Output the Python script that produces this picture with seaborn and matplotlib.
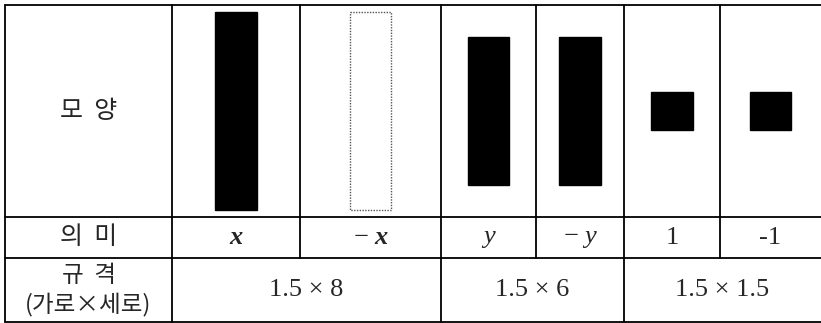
import matplotlib
matplotlib.use("Agg")
import matplotlib.pyplot as plt
import seaborn as sns

# table content
shape_labels = ["x", "-x", "y", "-y", "1", "-1"]
meaning_text = [r"$\mathbf{x}$", r"$-\ \mathbf{x}$", r"$y$", r"$-\ y$", "1", "-1"]
tile_w = [1.5, 1.5, 1.5, 1.5, 1.5, 1.5]
tile_h = [8, 8, 6, 6, 1.5, 1.5]
tile_fill = ["black", "white", "black", "black", "black", "black"]
spec_text = ["1.5 × 8", "1.5 × 6", "1.5 × 1.5"]
spec_span = [(0, 2), (2, 4), (4, 6)]

sns.set_theme(style="white")
plt.rcParams["font.family"] = ["Noto Sans CJK KR", "DejaVu Sans"]
plt.rcParams["mathtext.fontset"] = "custom"
plt.rcParams["mathtext.it"] = "Liberation Serif:italic"
plt.rcParams["mathtext.bf"] = "Liberation Serif:bold:italic"
plt.rcParams["mathtext.rm"] = "Liberation Serif"

W, H = 821, 323
fig = plt.figure(figsize=(W / 100, H / 100), dpi=100)
ax = fig.add_axes([0, 0, 1, 1])
ax.set_xlim(0, W)
ax.set_ylim(H, 0)
ax.axis("off")

# grid layout (pixels)
left, right = 5, 821
col_edges = [172, 300, 441, 536, 624, 720, 821]
row_y = [5, 217, 258, 321.5]
lw = 1.3

for y in row_y:
    ax.plot([left, right], [y, y], color="black", lw=lw)
ax.plot([left, left], [row_y[0], row_y[-1]], color="black", lw=lw)
for x in col_edges[:-1]:
    ax.plot([x, x], [row_y[0], row_y[2]], color="black", lw=lw)
for a, b in spec_span:
    ax.plot([col_edges[a], col_edges[a]], [row_y[2], row_y[3]], color="black", lw=lw)

# tiles drawn to scale, centred in each shape cell
sx, sy = 27.5, 24.7
for i in range(len(shape_labels)):
    cx = (col_edges[i] + col_edges[i + 1]) / 2
    cy = (row_y[0] + row_y[1]) / 2
    w = tile_w[i] * sx
    h = tile_h[i] * sy
    if tile_fill[i] == "white":
        ax.bar(cx, h, width=w, bottom=cy - h / 2, color="white",
               edgecolor="#555555", linestyle=(0, (1, 1)), linewidth=1.0)
    else:
        ax.bar(cx, h, width=w, bottom=cy - h / 2, color="black", edgecolor="black")

# header column
hx = (left + col_edges[0]) / 2
kr = dict(ha="center", va="center")
ax.text(hx, (row_y[0] + row_y[1]) / 2, "모  양", fontsize=18, **kr)
ax.text(hx, (row_y[1] + row_y[2]) / 2, "의  미", fontsize=18, **kr)
ax.text(hx, 276, "규  격", fontsize=17, **kr)
ax.text(hx, 304, "(가로×세로)", fontsize=17, **kr)

# meaning row
for i, t in enumerate(meaning_text):
    cx = (col_edges[i] + col_edges[i + 1]) / 2
    ax.text(cx, (row_y[1] + row_y[2]) / 2 + 1, t, ha="center", va="center",
            fontsize=19, family="Liberation Serif")

# spec row
for (a, b), t in zip(spec_span, spec_text):
    cx = (col_edges[a] + col_edges[b]) / 2
    ax.text(cx, (row_y[2] + row_y[3]) / 2, t, ha="center", va="center",
            fontsize=19, family="Liberation Serif")

fig.savefig("out.png", dpi=100)
